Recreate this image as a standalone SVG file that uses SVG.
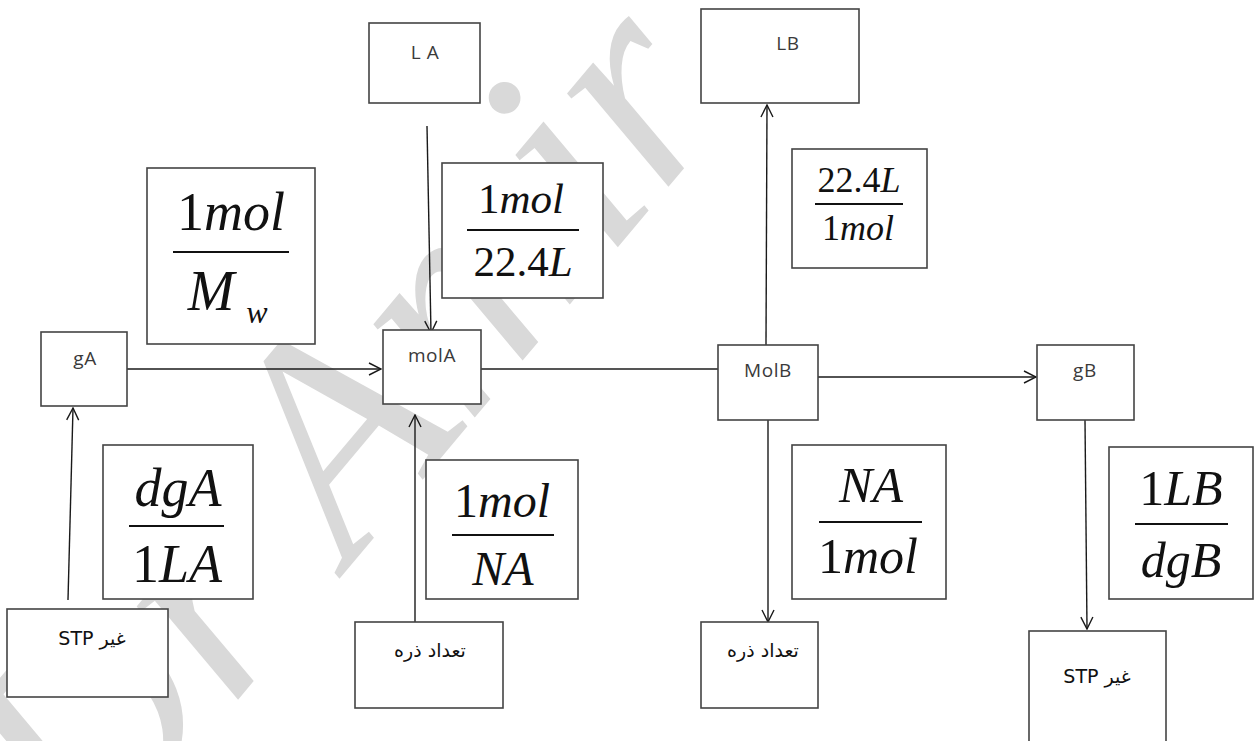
<svg xmlns="http://www.w3.org/2000/svg" width="1256" height="741" viewBox="0 0 1256 741">
<defs>
  <marker id="arr" viewBox="0 0 14 14" markerUnits="userSpaceOnUse" markerWidth="14" markerHeight="14" refX="13" refY="7" orient="auto">
    <path d="M1,1 L13,7 L1,13" fill="none" stroke="#1a1a1a" stroke-width="1.4"/>
  </marker>
</defs>
<rect x="0" y="0" width="1256" height="741" fill="#ffffff"/>
<g id="watermark">
  <text x="0" y="0" transform="translate(91,875) rotate(-50)" font-family="Liberation Serif" font-style="italic" font-size="300" fill="#d9d9d9">Dr Amir</text>
</g>
<g id="connectors" stroke="#1a1a1a" stroke-width="1.4" fill="none">
  <line x1="427" y1="126" x2="431" y2="333" marker-end="url(#arr)"/>
  <line x1="127" y1="369" x2="381" y2="369" marker-end="url(#arr)"/>
  <line x1="68" y1="600" x2="73" y2="408" marker-end="url(#arr)"/>
  <line x1="415" y1="622" x2="415" y2="415" marker-end="url(#arr)"/>
  <line x1="481" y1="369" x2="718" y2="369" stroke="#555555" stroke-width="1.8"/>
  <line x1="766" y1="345" x2="767" y2="105" marker-end="url(#arr)"/>
  <line x1="818" y1="377" x2="1036" y2="377" marker-end="url(#arr)"/>
  <line x1="768" y1="420" x2="768" y2="622" marker-end="url(#arr)"/>
  <line x1="1085" y1="420" x2="1087" y2="629" marker-end="url(#arr)"/>
</g>
<g id="LA">
  <rect x="369" y="23" width="111" height="80" fill="#ffffff" stroke="#444444" stroke-width="1.6"/>
  <text x="425" y="59" font-family="Open Sans" font-size="19" letter-spacing="0.6" text-anchor="middle" fill="#3a3a3a">L A</text>
</g>
<g id="LB">
  <rect x="701" y="9" width="158" height="94" fill="#ffffff" stroke="#444444" stroke-width="1.6"/>
  <text x="788" y="50" font-family="Open Sans" font-size="19" letter-spacing="0.6" text-anchor="middle" fill="#3a3a3a">LB</text>
</g>
<g id="gA">
  <rect x="41" y="332" width="86" height="74" fill="#ffffff" stroke="#444444" stroke-width="1.6"/>
  <text x="85" y="365" font-family="Open Sans" font-size="19" letter-spacing="0.6" text-anchor="middle" fill="#3a3a3a">gA</text>
</g>
<g id="molA">
  <rect x="383" y="330" width="98" height="74" fill="#ffffff" stroke="#444444" stroke-width="1.6"/>
  <text x="432" y="362" font-family="Open Sans" font-size="19" letter-spacing="0.6" text-anchor="middle" fill="#3a3a3a">molA</text>
</g>
<g id="MolB">
  <rect x="718" y="345" width="100" height="75" fill="#ffffff" stroke="#444444" stroke-width="1.6"/>
  <text x="768" y="377" font-family="Open Sans" font-size="19" letter-spacing="0.6" text-anchor="middle" fill="#3a3a3a">MolB</text>
</g>
<g id="gB">
  <rect x="1037" y="345" width="97" height="75" fill="#ffffff" stroke="#444444" stroke-width="1.6"/>
  <text x="1085" y="377" font-family="Open Sans" font-size="19" letter-spacing="0.6" text-anchor="middle" fill="#3a3a3a">gB</text>
</g>
<g id="STP_A">
  <rect x="7" y="609" width="161" height="88" fill="#ffffff" stroke="#444444" stroke-width="1.6"/>
  <text x="92" y="645" font-family="DejaVu Sans" font-size="19" text-anchor="middle" fill="#111111">STP غیر</text>
</g>
<g id="particles_A">
  <rect x="355" y="622" width="148" height="86" fill="#ffffff" stroke="#444444" stroke-width="1.6"/>
  <text x="430" y="657" font-family="DejaVu Sans" font-size="19" text-anchor="middle" fill="#111111">تعداد ذره</text>
</g>
<g id="particles_B">
  <rect x="701" y="622" width="117" height="86" fill="#ffffff" stroke="#444444" stroke-width="1.6"/>
  <text x="763" y="657" font-family="DejaVu Sans" font-size="19" text-anchor="middle" fill="#111111">تعداد ذره</text>
</g>
<g id="STP_B">
  <rect x="1029" y="631" width="137" height="130" fill="#ffffff" stroke="#444444" stroke-width="1.6"/>
  <text x="1097" y="683" font-family="DejaVu Sans" font-size="19" text-anchor="middle" fill="#111111">STP غیر</text>
</g>
<g id="f_Mw">
  <rect x="147" y="168" width="168" height="176" fill="#ffffff" stroke="#444444" stroke-width="1.6"/>
  <text x="231" y="230" font-family="Liberation Serif" font-size="54" text-anchor="middle" fill="#111111">1<tspan font-style="italic">mol</tspan></text>
  <line x1="173" y1="252" x2="289" y2="252" stroke="#111111" stroke-width="2"/>
  <text x="211" y="310" font-family="Liberation Serif" font-size="56" font-style="italic" text-anchor="middle" fill="#111111">M</text>
  <text x="257" y="323" font-family="Liberation Serif" font-size="32" font-style="italic" text-anchor="middle" fill="#111111">w</text>
</g>
<g id="f_molA_L">
  <rect x="442" y="163" width="161" height="135" fill="#ffffff" stroke="#444444" stroke-width="1.6"/>
  <text x="521" y="213" font-family="Liberation Serif" font-size="43" text-anchor="middle" fill="#111111">1<tspan font-style="italic">mol</tspan></text>
  <line x1="467" y1="230" x2="579" y2="230" stroke="#111111" stroke-width="2"/>
  <text x="523" y="276" font-family="Liberation Serif" font-size="43" text-anchor="middle" fill="#111111">22.4<tspan font-style="italic">L</tspan></text>
</g>
<g id="f_L_molB">
  <rect x="792" y="149" width="135" height="119" fill="#ffffff" stroke="#444444" stroke-width="1.6"/>
  <text x="859" y="192" font-family="Liberation Serif" font-size="36" text-anchor="middle" fill="#111111">22.4<tspan font-style="italic">L</tspan></text>
  <line x1="815" y1="204" x2="903" y2="204" stroke="#111111" stroke-width="2"/>
  <text x="858" y="240" font-family="Liberation Serif" font-size="36" text-anchor="middle" fill="#111111">1<tspan font-style="italic">mol</tspan></text>
</g>
<g id="f_dgA">
  <rect x="103" y="445" width="150" height="154" fill="#ffffff" stroke="#444444" stroke-width="1.6"/>
  <text x="178" y="506" font-family="Liberation Serif" font-size="54" font-style="italic" text-anchor="middle" fill="#111111">dgA</text>
  <line x1="129" y1="526" x2="224" y2="526" stroke="#111111" stroke-width="2"/>
  <text x="177" y="582" font-family="Liberation Serif" font-size="54" text-anchor="middle" fill="#111111">1<tspan font-style="italic">LA</tspan></text>
</g>
<g id="f_NA_A">
  <rect x="426" y="460" width="152" height="139" fill="#ffffff" stroke="#444444" stroke-width="1.6"/>
  <text x="502" y="517" font-family="Liberation Serif" font-size="48" text-anchor="middle" fill="#111111">1<tspan font-style="italic">mol</tspan></text>
  <line x1="452" y1="535" x2="554" y2="535" stroke="#111111" stroke-width="2"/>
  <text x="503" y="585" font-family="Liberation Serif" font-size="48" font-style="italic" text-anchor="middle" fill="#111111">NA</text>
</g>
<g id="f_NA_B">
  <rect x="792" y="445" width="154" height="154" fill="#ffffff" stroke="#444444" stroke-width="1.6"/>
  <text x="871" y="502" font-family="Liberation Serif" font-size="50" font-style="italic" text-anchor="middle" fill="#111111">NA</text>
  <line x1="819" y1="522" x2="922" y2="522" stroke="#111111" stroke-width="2"/>
  <text x="868" y="573" font-family="Liberation Serif" font-size="50" text-anchor="middle" fill="#111111">1<tspan font-style="italic">mol</tspan></text>
</g>
<g id="f_dgB">
  <rect x="1109" y="447" width="144" height="152" fill="#ffffff" stroke="#444444" stroke-width="1.6"/>
  <text x="1181" y="505" font-family="Liberation Serif" font-size="50" text-anchor="middle" fill="#111111">1<tspan font-style="italic">LB</tspan></text>
  <line x1="1135" y1="524" x2="1228" y2="524" stroke="#111111" stroke-width="2"/>
  <text x="1181" y="577" font-family="Liberation Serif" font-size="50" font-style="italic" text-anchor="middle" fill="#111111">dgB</text>
</g>
</svg>
